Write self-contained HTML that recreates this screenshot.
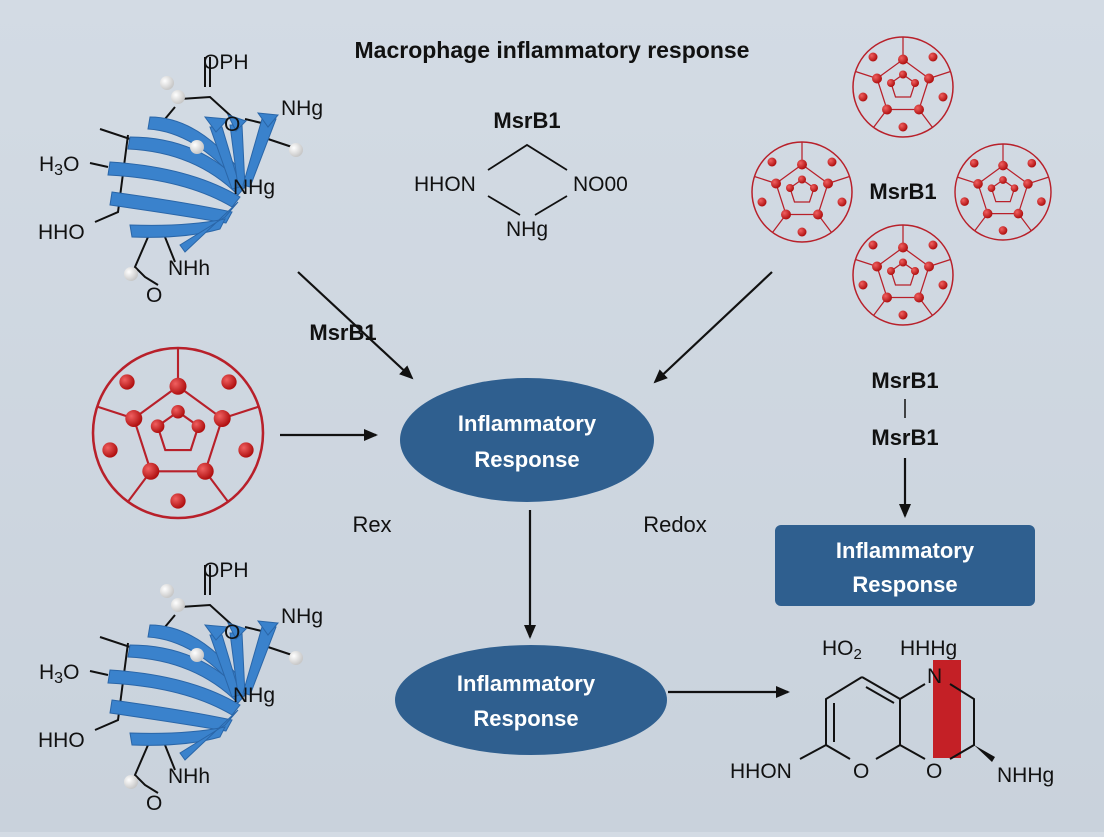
<!DOCTYPE html>
<html><head><meta charset="utf-8"><style>
html,body{margin:0;padding:0}
body{width:1104px;height:832px;overflow:hidden;background:linear-gradient(180deg,#d3dbe4,#c9d2dc);font-family:"Liberation Sans",sans-serif}
svg text{font-family:"Liberation Sans",sans-serif}
</style></head><body>
<svg width="1104" height="832" viewBox="0 0 1104 832" xmlns="http://www.w3.org/2000/svg">
<defs>
<marker id="ah" markerWidth="14" markerHeight="14" refX="12" refY="7" orient="auto" markerUnits="userSpaceOnUse"><path d="M0,1 L14,7 L0,13 z" fill="#111"/></marker>
<radialGradient id="rb" cx="35%" cy="35%" r="65%"><stop offset="0" stop-color="#f06060"/><stop offset="1" stop-color="#b01010"/></radialGradient>
<radialGradient id="wb" cx="35%" cy="35%" r="65%"><stop offset="0" stop-color="#fff"/><stop offset="1" stop-color="#c8c8c8"/></radialGradient>
<g id="prot">
 <g stroke="#111" stroke-width="2" fill="none">
  <path d="M210 20 L210 50 M205 20 L205 50"/>
  <path d="M180 62 L210 60 L232 80"/>
  <path d="M175 70 L165 82"/>
  <path d="M245 82 L270 88 M268 102 L292 110"/>
  <path d="M100 92 L130 102"/>
  <path d="M90 126 L108 130"/>
  <path d="M128 98 L118 175 L95 185"/>
  <path d="M148 200 L135 230 L145 240 L158 248 M165 200 L175 225"/>
 </g>
 <g fill="#3a82cc" stroke="#2a66a8" stroke-width="1">
  <path d="M150 80 Q200 80 245 140 L238 146 Q195 95 148 92 z"/>
  <path d="M130 100 Q200 100 245 150 L238 158 Q195 115 128 112 z"/>
  <path d="M110 125 Q190 130 240 160 L232 170 Q185 142 108 138 z"/>
  <path d="M112 155 Q185 165 232 175 L226 186 Q180 178 110 168 z"/>
  <path d="M130 188 Q185 190 225 182 L220 192 Q185 202 132 200 z"/>
  <path d="M210 90 L222 90 L240 150 L232 152 z"/>
  <path d="M230 88 L242 88 L245 150 L238 150 z"/>
  <path d="M262 82 L276 82 L250 150 L243 148 z"/>
  <path d="M205 80 L228 82 L216 95 z"/>
  <path d="M228 78 L246 84 L236 94 z"/>
  <path d="M258 76 L278 78 L268 90 z"/>
  <path d="M225 180 L238 165 L185 215 L180 208 z"/>
 </g>
 <circle cx="167" cy="46" r="7" fill="url(#wb)"/>
 <circle cx="178" cy="60" r="7" fill="url(#wb)"/>
 <circle cx="197" cy="110" r="7" fill="url(#wb)"/>
 <circle cx="296" cy="113" r="7" fill="url(#wb)"/>
 <circle cx="131" cy="237" r="7" fill="url(#wb)"/>
 <g font-size="21" fill="#111">
  <text x="203" y="32">OPH</text>
  <text x="281" y="78">NHg</text>
  <text x="39" y="134">H<tspan font-size="16" dy="4">3</tspan><tspan dy="-4">O</tspan></text>
  <text x="233" y="157">NHg</text>
  <text x="38" y="202">HHO</text>
  <text x="168" y="238">NHh</text>
  <text x="146" y="265">O</text>
  <text x="224" y="94">O</text>
 </g>
</g>
<g id="ful">
 <circle r="1" fill="none" stroke="#b8202a" stroke-width="0.03"/>
 <g fill="none" stroke="#b8202a" stroke-width="0.025">
  <polygon points="0,-0.55 0.52,-0.17 0.32,0.45 -0.32,0.45 -0.52,-0.17"/>
  <path d="M0,-0.55 L0,-1 M0.52,-0.17 L0.95,-0.31 M0.32,0.45 L0.59,0.81 M-0.32,0.45 L-0.59,0.81 M-0.52,-0.17 L-0.95,-0.31"/>
  <path d="M0,-0.25 L0.24,-0.08 L0.15,0.2 L-0.15,0.2 L-0.24,-0.08z"/>
 </g>
 <g fill="url(#rb)">
  <circle cx="0" cy="-0.55" r="0.1"/><circle cx="0.52" cy="-0.17" r="0.1"/><circle cx="0.32" cy="0.45" r="0.1"/><circle cx="-0.32" cy="0.45" r="0.1"/><circle cx="-0.52" cy="-0.17" r="0.1"/>
  <circle cx="0.6" cy="-0.6" r="0.09"/><circle cx="-0.6" cy="-0.6" r="0.09"/><circle cx="0.8" cy="0.2" r="0.09"/><circle cx="-0.8" cy="0.2" r="0.09"/><circle cx="0" cy="0.8" r="0.09"/>
  <circle cx="0" cy="-0.25" r="0.08"/><circle cx="0.24" cy="-0.08" r="0.08"/><circle cx="-0.24" cy="-0.08" r="0.08"/>
 </g>
</g>
</defs>

<text x="552" y="58" font-size="23" font-weight="bold" text-anchor="middle" fill="#111">Macrophage inflammatory response</text>

<use href="#prot" x="0" y="37"/>
<use href="#prot" x="0" y="545"/>

<text x="527" y="128" font-size="22" font-weight="bold" text-anchor="middle" fill="#111">MsrB1</text>
<g stroke="#111" stroke-width="1.8" fill="none"><path d="M488 170 L527 145 L567 170 M488 196 L520 215 M567 196 L535 215"/></g>
<g font-size="21" fill="#111"><text x="414" y="191">HHON</text><text x="573" y="191">NO00</text><text x="506" y="236">NHg</text></g>

<use href="#ful" transform="translate(178,433) scale(85)"/>
<use href="#ful" transform="translate(903,87) scale(50)"/>
<use href="#ful" transform="translate(802,192) scale(50)"/>
<use href="#ful" transform="translate(1003,192) scale(48)"/>
<use href="#ful" transform="translate(903,275) scale(50)"/>
<text x="903" y="199" font-size="22" font-weight="bold" text-anchor="middle" fill="#111">MsrB1</text>

<g stroke="#111" stroke-width="2.2" fill="none" marker-end="url(#ah)">
 <line x1="298" y1="272" x2="412" y2="378"/>
 <line x1="772" y1="272" x2="655" y2="382"/>
 <line x1="280" y1="435" x2="376" y2="435"/>
 <line x1="530" y1="510" x2="530" y2="637"/>
 <line x1="668" y1="692" x2="788" y2="692"/>
 <line x1="905" y1="458" x2="905" y2="516"/>
</g>
<line x1="905" y1="399" x2="905" y2="418" stroke="#111" stroke-width="1.5"/>
<text x="343" y="340" font-size="22" font-weight="bold" text-anchor="middle" fill="#111">MsrB1</text>
<text x="905" y="388" font-size="22" font-weight="bold" text-anchor="middle" fill="#111">MsrB1</text>
<text x="905" y="445" font-size="22" font-weight="bold" text-anchor="middle" fill="#111">MsrB1</text>
<text x="372" y="532" font-size="22" text-anchor="middle" fill="#111">Rex</text>
<text x="675" y="532" font-size="22" text-anchor="middle" fill="#111">Redox</text>

<ellipse cx="527" cy="440" rx="127" ry="62" fill="#2f5f8f"/>
<text x="527" y="431" font-size="22" font-weight="bold" fill="#fff" text-anchor="middle">Inflammatory</text>
<text x="527" y="467" font-size="22" font-weight="bold" fill="#fff" text-anchor="middle">Response</text>
<ellipse cx="531" cy="700" rx="136" ry="55" fill="#2f5f8f"/>
<text x="526" y="691" font-size="22" font-weight="bold" fill="#fff" text-anchor="middle">Inflammatory</text>
<text x="526" y="726" font-size="22" font-weight="bold" fill="#fff" text-anchor="middle">Response</text>
<rect x="775" y="525" width="260" height="81" rx="6" fill="#2f5f8f"/>
<text x="905" y="558" font-size="22" font-weight="bold" fill="#fff" text-anchor="middle">Inflammatory</text>
<text x="905" y="592" font-size="22" font-weight="bold" fill="#fff" text-anchor="middle">Response</text>

<rect x="933" y="660" width="28" height="98" fill="#c42026"/>
<g stroke="#111" stroke-width="2" fill="none">
 <path d="M862 677 L900 699 L900 745 L876 759 M850 759 L826 745 L826 699 L862 677"/>
 <path d="M866 687 L894 703 M834 703 L834 742"/>
 <path d="M900 699 L925 684 M950 684 L974 699 L974 745 L950 759 M925 759 L900 745"/>
 <path d="M826 745 L800 759"/>
</g>
<path d="M974 745 L995 757 L992 762 z" fill="#111"/>
<g font-size="21" fill="#111">
 <text x="822" y="655">HO<tspan font-size="15" dy="4">2</tspan></text>
 <text x="900" y="655">HHHg</text>
 <text x="927" y="683">N</text>
 <text x="853" y="778">O</text>
 <text x="926" y="778">O</text>
 <text x="730" y="778">HHON</text>
 <text x="997" y="782">NHHg</text>
</g>
</svg>
</body></html>
